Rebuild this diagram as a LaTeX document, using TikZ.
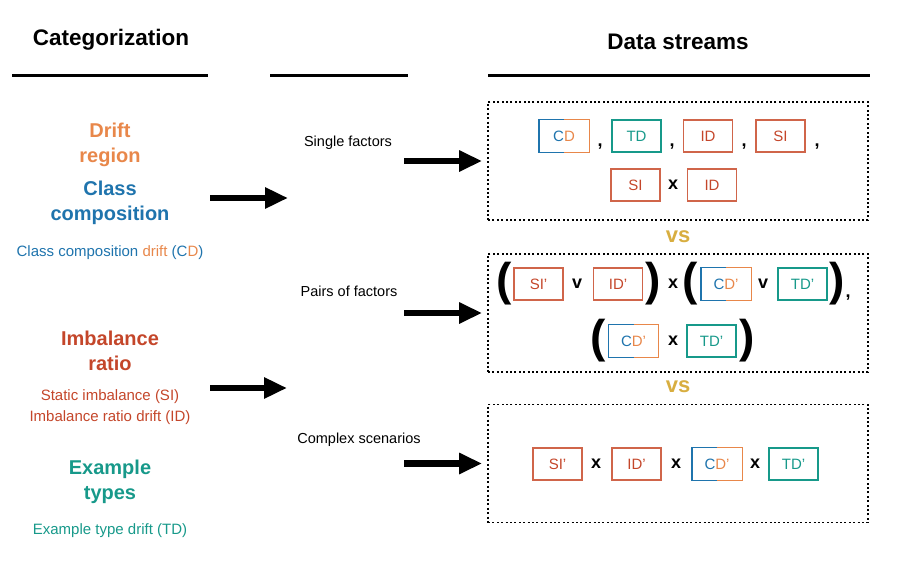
\documentclass[tikz,border=0pt]{standalone}
\usepackage{fontspec}
\setmainfont{Liberation Sans}
\usetikzlibrary{arrows.meta,positioning}

\definecolor{driftor}{HTML}{E8874A}
\definecolor{classbl}{HTML}{1F74AD}
\definecolor{imbred}{HTML}{C4462A}
\definecolor{boxred}{HTML}{D0654A}
\definecolor{exteal}{HTML}{17998A}
\definecolor{vsgold}{HTML}{D8AE40}

\tikzset{
  title/.style={font=\fontsize{22.5}{26}\selectfont\bfseries},
  cat/.style={font=\fontsize{20}{25.5}\selectfont\bfseries, align=center},
  sub/.style={font=\fontsize{15}{21}\selectfont, align=center},
  lab/.style={font=\fontsize{14.5}{17}\selectfont},
  fac/.style={line width=1.3pt, minimum width=49pt, minimum height=32pt,
    inner sep=0pt, font=\fontsize{15}{18}\selectfont},
  idbox/.style={fac, draw=boxred, text=imbred},
  tdbox/.style={fac, draw=exteal, text=exteal},
  op/.style={font=\fontsize{18}{20}\selectfont\bfseries},
  paren/.style={font=\fontsize{46}{50}\selectfont\bfseries},
  vs/.style={font=\fontsize{22}{24}\selectfont\bfseries, text=vsgold},
  streambox/.style={draw, dash pattern=on 2pt off 2.4pt, line width=1.8pt,
    minimum width=380pt, minimum height=118pt, inner sep=0pt},
  bigarrow/.style={line width=6.5pt, -{Triangle[length=23pt,width=20pt]}},
  rule/.style={line width=3pt},
}

% two-coloured frame for the class composition boxes
\newcommand\splitframe[1]{%
  \draw[line width=1.3pt, classbl] (#1.north) -- (#1.north west)
    -- (#1.south west) -- (#1.south);
  \draw[line width=1.3pt, driftor] (#1.north) -- (#1.north east)
    -- (#1.south east) -- (#1.south);}

\begin{document}
\begin{tikzpicture}[x=1pt,y=-1pt]
  \useasboundingbox (0,0) rectangle (900,562);

  % headings
  \node[title] (cat) at (111,40) {Categorization};
  \node[title] (ds) at (678,42) {Data streams};
  \draw[rule] (12,75) -- (208,75);
  \draw[rule] (270,75) -- (408,75);
  \draw[rule] (488,75) -- (870,75);

  % categories
  \node[cat, driftor] (drift) at (110,145) {Drift\\region};
  \node[cat, classbl] (class) at (110,203) {Class\\composition};
  \node[sub] (cdtext) at (110,253) {\textcolor{classbl}{Class composition}
    \textcolor{driftor}{drift} \textcolor{classbl}{(C}\textcolor{driftor}{D}\textcolor{classbl}{)}};
  \node[cat, imbred] (imb) at (110,351) {Imbalance\\ratio};
  \node[sub, imbred] (sitext) at (110,407) {Static imbalance (SI)\\Imbalance ratio drift (ID)};
  \node[cat, exteal] (ex) at (110,482) {Example\\types};
  \node[sub, exteal] (tdtext) at (110,531) {Example type drift (TD)};

  \coordinate (l1) at (210,198);
  \coordinate (r1) at (288,198);
  \coordinate (l2) at (210,388);
  \coordinate (r2) at (287,388);
  \draw[bigarrow] (l1) -- (r1);
  \draw[bigarrow] (l2) -- (r2);

  % kinds of combination
  \node[lab] (single) at (348,143) {Single factors};
  \node[lab] (pairs) at (349,291) {Pairs of factors};
  \node[lab] (complex) at (359,440) {Complex scenarios};

  \node[streambox] (box1) at (678,161) {};
  \node[streambox] (box2) at (678,313) {};
  \node[streambox] (box3) at (678,463.5) {};
  \node[vs] (vs1) at (678,237) {vs};
  \node[vs] (vs2) at (678,387) {vs};

  \coordinate (m1) at (404,161);
  \coordinate (m2) at (404,313);
  \coordinate (m3) at (404,463.5);
  \draw[bigarrow, shorten >=5pt] (m1) -- (box1.west);
  \draw[bigarrow, shorten >=5pt] (m2) -- (box2.west);
  \draw[bigarrow, shorten >=5pt] (m3) -- (box3.west);

  % single factors
  \node[fac] (cd1) at (564,136) {\textcolor{classbl}{C}\textcolor{driftor}{D}};
  \splitframe{cd1}
  \node[op] (k1) at (600,147) {,};
  \node[tdbox] (td1) at (636.5,136) {TD};
  \node[op] (k2) at (672,147) {,};
  \node[idbox] (id1) at (708,136) {ID};
  \node[op] (k3) at (744,147) {,};
  \node[idbox] (si1) at (780.5,136) {SI};
  \node[op] (k4) at (817,147) {,};
  \node[idbox] (si2) at (635.5,185) {SI};
  \node[op] (x1) at (673,185) {x};
  \node[idbox] (id2) at (712,185) {ID};

  % pairs of factors
  \node[paren] (p1) at (504,284) {(};
  \node[idbox] (si3) at (538.5,284) {SI'};
  \node[op] (v1) at (577,284) {v};
  \node[idbox] (id3) at (618,284) {ID'};
  \node[paren] (p2) at (653,284) {)};
  \node[op] (x2) at (673,284) {x};
  \node[paren] (p3) at (690,284) {(};
  \node[fac] (cd3) at (726,284) {\textcolor{classbl}{C}\textcolor{driftor}{D'}};
  \splitframe{cd3}
  \node[op] (v2) at (763,284) {v};
  \node[tdbox] (td3) at (802.5,284) {TD'};
  \node[paren] (p4) at (837,284) {)};
  \node[op] (k5) at (848,298) {,};
  \node[paren] (p5) at (598,341) {(};
  \node[fac] (cd4) at (633.5,341) {\textcolor{classbl}{C}\textcolor{driftor}{D'}};
  \splitframe{cd4}
  \node[op] (x3) at (673,341) {x};
  \node[tdbox] (td4) at (711.5,341) {TD'};
  \node[paren] (p6) at (747,341) {)};

  % complex scenarios
  \node[idbox] (si5) at (557.5,464) {SI'};
  \node[op] (x4) at (596,464) {x};
  \node[idbox] (id5) at (636.5,464) {ID'};
  \node[op] (x5) at (676,464) {x};
  \node[fac] (cd5) at (717,464) {\textcolor{classbl}{C}\textcolor{driftor}{D'}};
  \splitframe{cd5}
  \node[op] (x6) at (755,464) {x};
  \node[tdbox] (td5) at (793.5,464) {TD'};
\end{tikzpicture}
\end{document}
